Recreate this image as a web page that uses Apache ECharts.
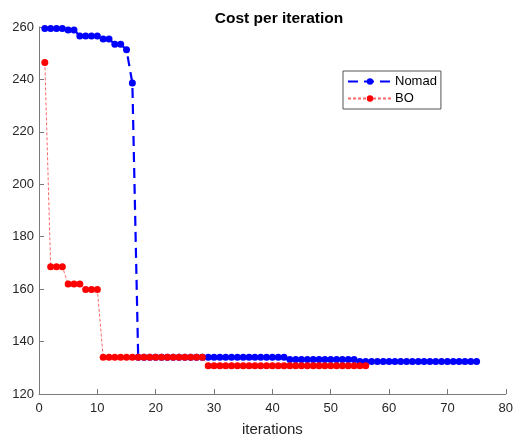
<!DOCTYPE html>
<html><head><meta charset="utf-8">
<script src="https://cdn.jsdelivr.net/npm/echarts@6/dist/echarts.min.js"></script>
<style>html,body{margin:0;padding:0;background:#fff}#c{width:516px;height:442px}</style>
</head><body><div id="c"></div>
<script>
const xTicks = [0,10,20,30,40,50,60,70,80];
const yTicks = [120,140,160,180,200,220,240,260];
const nomadCost = [
  259.4,259.4,259.4,259.4,258.9,258.9,256.6,256.6,256.6,256.6,
  255.4,255.4,253.4,253.4,251.3,238.6,134.0,134.0,134.0,134.0,
  134.0,134.0,134.0,134.0,134.0,134.0,134.0,134.0,134.0,134.0,
  134.0,134.0,134.0,134.0,134.0,134.0,134.0,134.0,134.0,134.0,
  134.0,134.0,133.2,133.2,133.2,133.2,133.2,133.2,133.2,133.2,
  133.2,133.2,133.2,133.2,132.4,132.4,132.4,132.4,132.4,132.4,
  132.4,132.4,132.4,132.4,132.4,132.4,132.4,132.4,132.4,132.4,
  132.4,132.4,132.4,132.4,132.4
];
const boCost = [
  246.5,168.5,168.5,168.5,162.0,162.0,162.0,159.9,159.9,159.9,
  134.0,134.0,134.0,134.0,134.0,134.0,134.0,134.0,134.0,134.0,
  134.0,134.0,134.0,134.0,134.0,134.0,134.0,134.0,130.8,130.8,
  130.8,130.8,130.8,130.8,130.8,130.8,130.8,130.8,130.8,130.8,
  130.8,130.8,130.8,130.8,130.8,130.8,130.8,130.8,130.8,130.8,
  130.8,130.8,130.8,130.8,130.8,130.8
];
const seriesNames = ['Nomad','BO'];
const toPairs = arr => arr.map((v,i)=>[i+1,v]);

const chart = echarts.init(document.getElementById('c'), null, {renderer:'canvas'});
const axisCol = '#7a7a7a';
const font = 'Liberation Sans, Arial, Helvetica, sans-serif';
chart.setOption({
  animation:false,
  backgroundColor:'#fff',
  title:{text:'Cost per iteration',left:274,textAlign:'center',top:6,
    textStyle:{fontFamily:font,fontSize:15.5,fontWeight:'bold',color:'#000'}},
  grid:{left:39,right:8,top:27,bottom:46,containLabel:false},
  legend:{
    orient:'vertical',left:343,top:71,
    data:seriesNames,
    backgroundColor:'#fff',borderColor:'#555',borderWidth:1,
    padding:[4,4,4,4],itemGap:4,itemWidth:44,itemHeight:8,
    textStyle:{fontFamily:font,fontSize:13,color:'#000',padding:[0,0,0,-2]}
  },
  xAxis:{type:'value',min:xTicks[0],max:xTicks[xTicks.length-1],interval:10,
    name:'iterations',nameLocation:'middle',nameGap:28,
    nameTextStyle:{fontFamily:font,fontSize:15,color:'#262626'},
    axisLine:{lineStyle:{color:axisCol}},
    axisTick:{inside:true,length:5,lineStyle:{color:axisCol}},
    axisLabel:{fontFamily:font,fontSize:13,color:'#262626',margin:8},
    splitLine:{show:false}},
  yAxis:{type:'value',min:yTicks[0],max:yTicks[yTicks.length-1],interval:20,
    axisLine:{show:true,lineStyle:{color:axisCol}},
    axisTick:{show:true,inside:true,length:5,lineStyle:{color:axisCol}},
    axisLabel:{fontFamily:font,fontSize:13,color:'#262626',margin:5},
    splitLine:{show:false}},
  series:[
    {name:seriesNames[0],type:'line',data:toPairs(nomadCost),
     symbol:'circle',symbolSize:7,
     itemStyle:{color:'#0000ff'},
     lineStyle:{color:'#0000ff',width:2.2,type:[10,6]}},
    {name:seriesNames[1],type:'line',data:toPairs(boCost),
     symbol:'circle',symbolSize:7,
     itemStyle:{color:'#ff0000'},
     lineStyle:{color:'rgba(255,0,0,0.6)',width:1,type:[3,2]}}
  ]
});
</script></body></html>
